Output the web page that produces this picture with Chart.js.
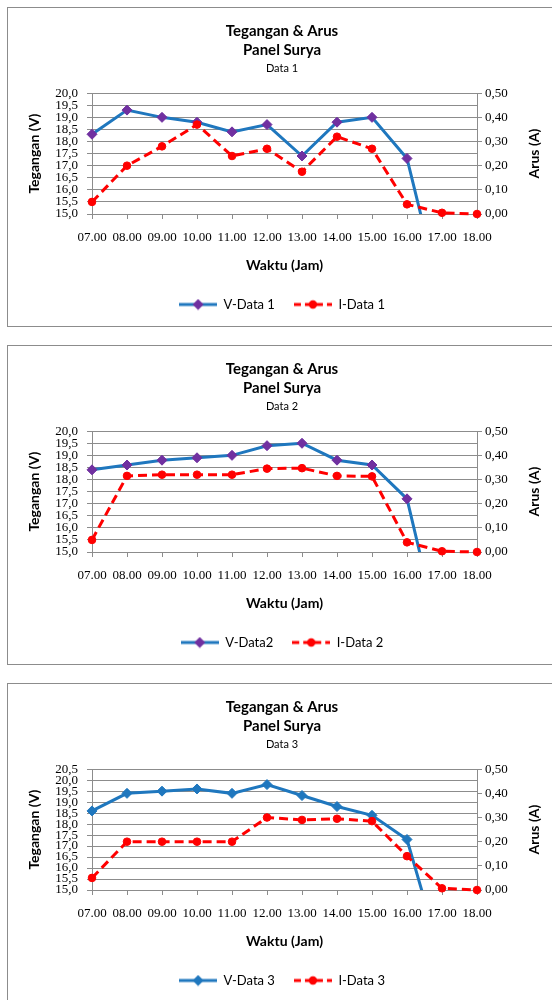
<!DOCTYPE html>
<html>
<head>
<meta charset="utf-8">
<title>Tegangan & Arus Panel Surya</title>
<script src="https://cdn.jsdelivr.net/npm/chart.js"></script>
<style>
    body { margin: 0; width: 552px; height: 1000px; overflow: hidden; background: #fff; position: relative; }
    .panel { position: absolute; left: 7px; width: 548px; height: 318px; border: 1px solid #8c8c8c; background: #fff; }
    .panel canvas { position: absolute; left: 0; top: 0; }
</style>
</head>
<body>
<div class="panel" style="top:7px"><canvas id="grafik-1" width="548" height="318"></canvas></div>
<div class="panel" style="top:345px"><canvas id="grafik-2" width="548" height="318"></canvas></div>
<div class="panel" style="top:683px"><canvas id="grafik-3" width="548" height="318"></canvas></div>
<script>
const jam = ['07.00', '08.00', '09.00', '10.00', '11.00', '12.00', '13.00', '14.00', '15.00', '16.00', '17.00', '18.00'];

// tegangan (V) - the 17.00 / 18.00 points fall below the axis and are clipped
const tegangan1 = [18.3, 19.3, 19.0, 18.8, 18.4, 18.7, 17.4, 18.8, 19.0, 17.3, 11.4, 10.2];
const tegangan2 = [18.4, 18.6, 18.8, 18.9, 19.0, 19.4, 19.5, 18.8, 18.6, 17.2, 11.1, 10.2];
const tegangan3 = [18.6, 19.4, 19.5, 19.6, 19.4, 19.8, 19.3, 18.8, 18.4, 17.3, 11.8, 10.2];

// arus (A)
const arus1 = [0.05, 0.20, 0.28, 0.37, 0.24, 0.27, 0.175, 0.32, 0.27, 0.04, 0.005, 0.00];
const arus2 = [0.05, 0.315, 0.32, 0.32, 0.32, 0.345, 0.347, 0.315, 0.313, 0.04, 0.003, 0.00];
const arus3 = [0.05, 0.20, 0.20, 0.20, 0.20, 0.30, 0.29, 0.295, 0.285, 0.14, 0.007, 0.00];

const BIRU = '#1f77be';
const UNGU = '#7030a0';
const MERAH = '#ff0000';
const ABU = '#8c8c8c';
const SANS = 'Lato';
const SERIF = 'Liberation Serif';

const sampelLegenda = (warnaGaris, warnaTitik, putus, bentuk) => {
    const c = document.createElement('canvas');
    c.width = 38;
    c.height = 12;
    const g = c.getContext('2d');
    g.strokeStyle = warnaGaris;
    g.lineWidth = 3;
    g.setLineDash(putus);
    g.beginPath();
    g.moveTo(0, 6);
    g.lineTo(38, 6);
    g.stroke();
    g.setLineDash([]);
    g.fillStyle = warnaTitik;
    g.beginPath();
    if (bentuk === 'diamond') {
        g.moveTo(19, 0.5);
        g.lineTo(24.5, 6);
        g.lineTo(19, 11.5);
        g.lineTo(13.5, 6);
        g.closePath();
    } else {
        g.arc(19, 6, 4.2, 0, Math.PI * 2);
    }
    g.fill();
    return c;
}

// "Arus (A)" reads bottom-to-top like the left title, so draw it by hand
const judulKanan = {
    id: 'judulKanan',
    afterDraw(chart) {
        const { ctx, chartArea, scales } = chart;
        ctx.save();
        ctx.translate(scales.y1.right - 22, (chartArea.top + chartArea.bottom) / 2);
        ctx.rotate(-Math.PI / 2);
        ctx.font = `bold 14px ${SANS}`;
        ctx.fillStyle = '#000';
        ctx.textAlign = 'center';
        ctx.textBaseline = 'middle';
        ctx.fillText('Arus (A)', 0, 0);
        ctx.restore();
    }
};

const buatGrafik = (id, subjudul, tegangan, arus, vMax, labelV, labelI, warnaMarker) => {
    const sampel = [
        sampelLegenda(BIRU, warnaMarker, [], 'diamond'),
        sampelLegenda(MERAH, MERAH, [7, 4], 'circle')
    ];
    new Chart(document.getElementById(id), {
        type: 'line',
        data: {
            labels: jam,
            datasets: [{
                label: labelV,
                data: tegangan,
                yAxisID: 'y',
                order: 1,
                borderColor: BIRU,
                borderWidth: 3,
                pointStyle: 'rectRot',
                pointRadius: 5,
                pointHoverRadius: 5,
                pointBackgroundColor: warnaMarker,
                pointBorderColor: warnaMarker,
                pointBorderWidth: 1,
                clip: { left: 10, right: 10, top: 10, bottom: 0 }
            }, {
                label: labelI,
                data: arus,
                yAxisID: 'y1',
                order: 0,
                borderColor: MERAH,
                borderWidth: 3,
                borderDash: [9, 5],
                pointStyle: 'circle',
                pointRadius: 3.8,
                pointHoverRadius: 3.8,
                pointBackgroundColor: MERAH,
                pointBorderColor: MERAH,
                pointBorderWidth: 1,
                clip: false
            }]
        },
        options: {
            responsive: false,
            animation: false,
            devicePixelRatio: 1,
            layout: { padding: { top: 0, right: 0, bottom: 5, left: 0 } },
            plugins: {
                title: {
                    display: true,
                    text: ['Tegangan & Arus', 'Panel Surya'],
                    color: '#000',
                    font: { family: SANS, size: 15, weight: 'bold', lineHeight: 1.233 },
                    padding: { top: 14, bottom: 0 }
                },
                subtitle: {
                    display: true,
                    text: subjudul,
                    color: '#000',
                    font: { family: SANS, size: 11, lineHeight: 1.2 },
                    padding: { top: 3, bottom: 18 }
                },
                legend: {
                    position: 'bottom',
                    labels: {
                        usePointStyle: true,
                        pointStyleWidth: 38,
                        padding: 19,
                        color: '#000',
                        font: { family: SANS, size: 13 },
                        sort: (a, b) => a.datasetIndex - b.datasetIndex,
                        generateLabels: chart => Chart.defaults.plugins.legend.labels.generateLabels(chart)
                            .map(item => ({ ...item, pointStyle: sampel[item.datasetIndex] }))
                    }
                },
                tooltip: { enabled: false }
            },
            scales: {
                x: {
                    offset: false,
                    grid: { drawOnChartArea: false, drawTicks: true, tickLength: 5, color: ABU },
                    border: { color: ABU },
                    ticks: { autoSkip: false, maxRotation: 0, padding: 11, color: '#000', font: { family: SERIF, size: 13 } },
                    title: {
                        display: true,
                        text: 'Waktu (Jam)',
                        color: '#000',
                        font: { family: SANS, size: 14, weight: 'bold', lineHeight: 1.2 },
                        padding: { top: 0, bottom: 5.6 }
                    },
                    afterFit: s => { s.height = 65; }
                },
                y: {
                    position: 'left',
                    min: 15,
                    max: vMax,
                    grid: { color: ABU, tickLength: 5 },
                    border: { color: ABU },
                    ticks: {
                        stepSize: 0.5,
                        autoSkip: false,
                        padding: 9,
                        color: '#000',
                        font: { family: SERIF, size: 13 },
                        callback: v => v.toFixed(1).replace('.', ',')
                    },
                    title: {
                        display: true,
                        text: 'Tegangan (V)',
                        color: '#000',
                        font: { family: SANS, size: 14, weight: 'bold', lineHeight: 1.2 },
                        padding: { top: 17.6, bottom: 0 }
                    },
                    afterFit: s => { s.width = 84; }
                },
                y1: {
                    position: 'right',
                    min: 0,
                    max: 0.5,
                    grid: { drawOnChartArea: false, tickLength: 5, color: ABU },
                    border: { color: ABU },
                    ticks: {
                        stepSize: 0.1,
                        autoSkip: false,
                        padding: 3,
                        color: '#000',
                        font: { family: SERIF, size: 13 },
                        callback: v => v.toFixed(2).replace('.', ',')
                    },
                    afterFit: s => { s.width = 79; }
                }
            }
        },
        plugins: [judulKanan]
    });
}

buatGrafik('grafik-1', 'Data 1', tegangan1, arus1, 20, 'V-Data 1', 'I-Data 1', UNGU);
buatGrafik('grafik-2', 'Data 2', tegangan2, arus2, 20, 'V-Data2', 'I-Data 2', UNGU);
buatGrafik('grafik-3', 'Data 3', tegangan3, arus3, 20.5, 'V-Data 3', 'I-Data 3', BIRU);
</script>
</body>
</html>
